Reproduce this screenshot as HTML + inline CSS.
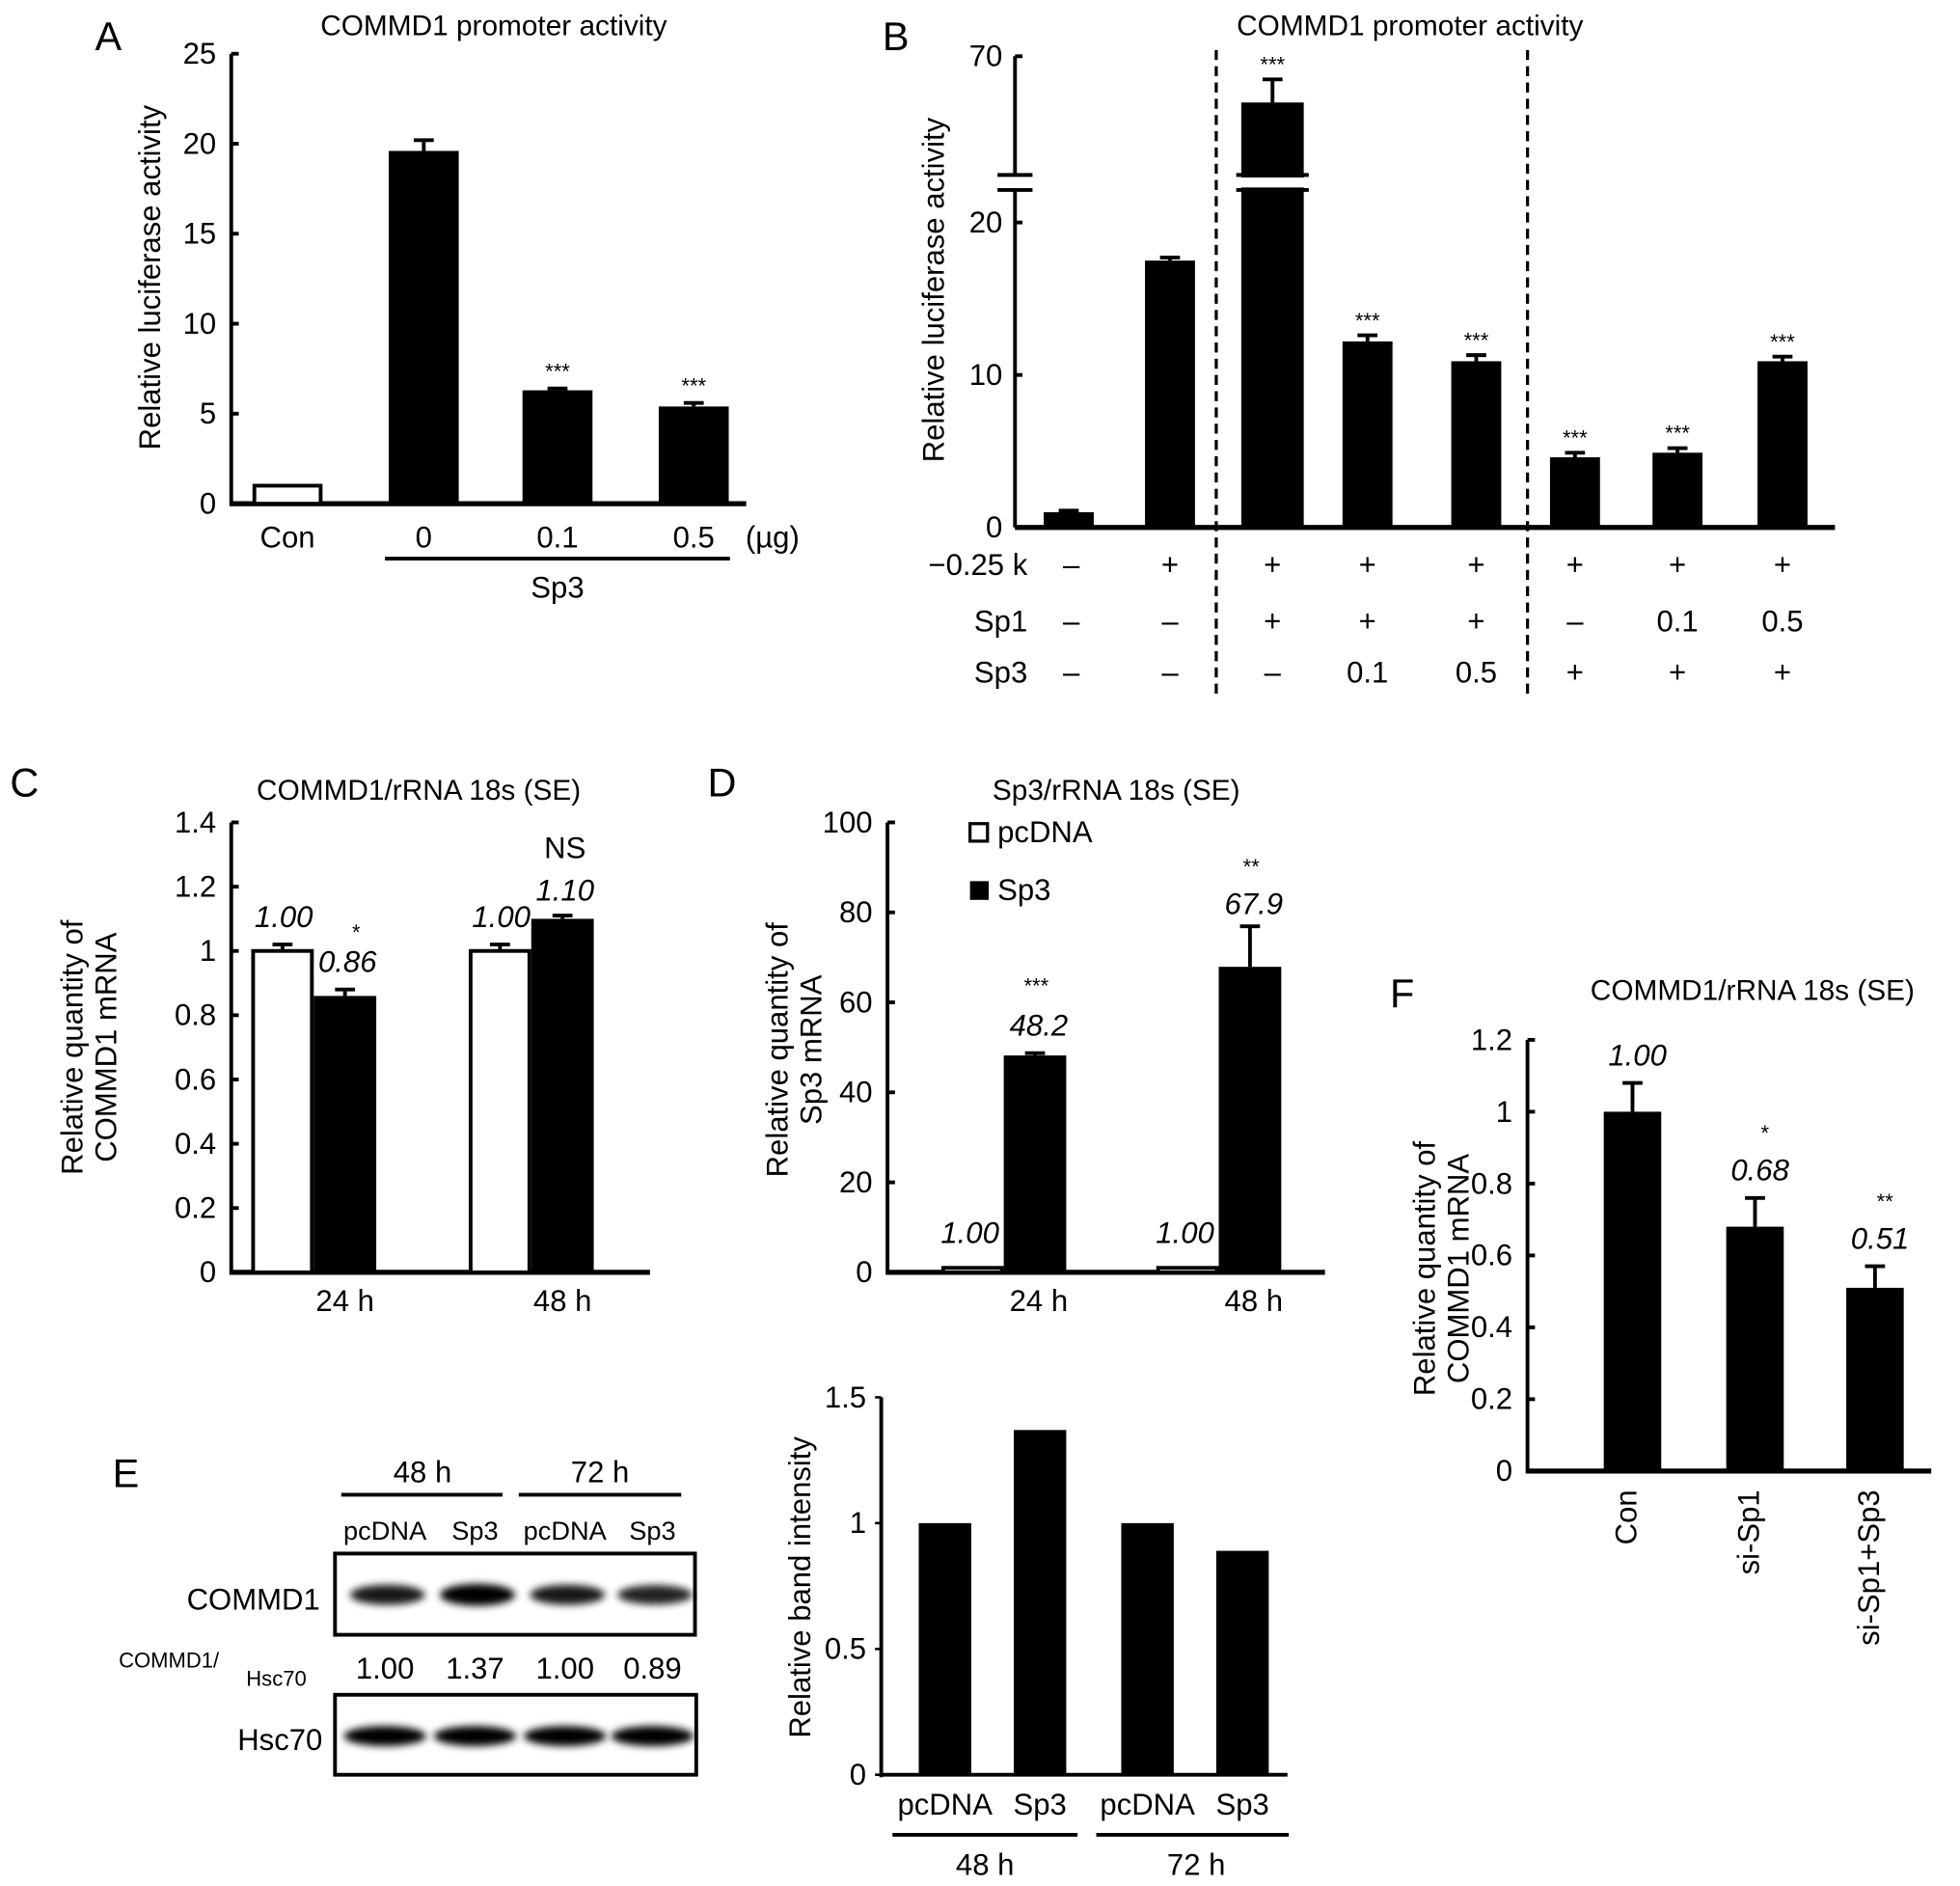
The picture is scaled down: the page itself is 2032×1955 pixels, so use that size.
<!DOCTYPE html>
<html><head><meta charset="utf-8"><style>
html,body{margin:0;padding:0;background:#fff}
svg{display:block}
text{font-family:"Liberation Sans",sans-serif;fill:#000}
</style></head><body>
<svg id="fig" xmlns="http://www.w3.org/2000/svg" width="2032" height="1955" viewBox="0 0 1568 1509" preserveAspectRatio="none">
<defs><filter id="blur" x="-20%" y="-50%" width="140%" height="200%"><feGaussianBlur stdDeviation="3"/></filter></defs>
<text x="76" y="40" font-size="32">A</text>
<text x="395" y="28" font-size="23" text-anchor="middle">COMMD1 promoter activity</text>
<text x="706" y="40" font-size="32">B</text>
<text x="1128" y="28" font-size="23" text-anchor="middle">COMMD1 promoter activity</text>
<text x="8" y="637" font-size="32">C</text>
<text x="335" y="640" font-size="23" text-anchor="middle">COMMD1/rRNA 18s (SE)</text>
<text x="566" y="637" font-size="32">D</text>
<text x="893" y="640" font-size="23" text-anchor="middle">Sp3/rRNA 18s (SE)</text>
<text x="1112" y="806" font-size="32">F</text>
<text x="1402" y="800" font-size="23" text-anchor="middle">COMMD1/rRNA 18s (SE)</text>
<text x="90" y="1190" font-size="32">E</text>
<g id="g"></g>
</svg>
<script>
// ---- data ----
const aCats = ["Con","0","0.1","0.5"];
const aVals = [1.0,19.6,6.3,5.4];
const aErr = [0.05,0.6,0.1,0.2];
const aStars = ["","","***","***"];
const aTicks = [0,5,10,15,20,25];

const bVals = [1.0,17.5,60,12.2,10.9,4.6,4.9,10.9];
const bErr = [0.1,0.2,5,0.4,0.4,0.3,0.3,0.3];
const bStars = ["","","***","***","***","***","***","***"];
const bRow1 = ["–","+","+","+","+","+","+","+"];
const bRow2 = ["–","–","+","+","+","–","0.1","0.5"];
const bRow3 = ["–","–","–","0.1","0.5","+","+","+"];
const bTicks = [0,10,20];

const cGroups = ["24 h","48 h"];
const cCtrl = [1.00,1.00];
const cTreat = [0.86,1.10];
const cCtrlErr = [0.02,0.02];
const cTreatErr = [0.02,0.01];
const cStars = ["*","NS"];
const cTicks = [0,0.2,0.4,0.6,0.8,1,1.2,1.4];

const dGroups = ["24 h","48 h"];
const dCtrl = [1.00,1.00];
const dTreat = [48.2,67.9];
const dTreatErr = [0.5,9];
const dStars = ["***","**"];
const dTicks = [0,20,40,60,80,100];

const eCats = ["pcDNA","Sp3","pcDNA","Sp3"];
const eVals = [1.00,1.37,1.00,0.89];
const eTicks = [0,0.5,1,1.5];

const fCats = ["Con","si-Sp1","si-Sp1+Sp3"];
const fVals = [1.00,0.68,0.51];
const fErr = [0.08,0.08,0.06];
const fStars = ["","*","**"];
const fTicks = [0,0.2,0.4,0.6,0.8,1,1.2];

const FS=24;
// ---- helpers ----
const NS="http://www.w3.org/2000/svg";
const G=document.getElementById('g');
function mk(tag,attrs,txt){const e=document.createElementNS(NS,tag);for(const k in attrs)e.setAttribute(k,attrs[k]);if(txt!==undefined)e.textContent=txt;G.appendChild(e);return e;}
function line(x1,y1,x2,y2,w,extra){return mk('line',Object.assign({x1,y1,x2,y2,stroke:'#000','stroke-width':w||3},extra||{}));}
function txt(x,y,s,size,anchor,extra){return mk('text',Object.assign({x,y,'font-size':size||FS,'text-anchor':anchor||'middle'},extra||{}),s);}
function fmt(v){return (Math.round(v*10)/10).toString();}

// ---- Panel A ----
(function(){
  const x0=185,y0=403,yTop=43,max=25;
  const ys=v=>y0-(v/max)*(y0-yTop);
  const xs=[230,339,446,555], bw=56;
  let e;
  e=line(x0,yTop,x0,y0+2,3);
  
  
  e=line(x0,y0,597,y0,4);
  
  
  aTicks.forEach(t=>{line(x0,ys(t),x0+6,ys(t),3);
    e=txt(x0-12,ys(t)+8,String(t),FS,'end');
    
    });
  e=txt(0,0,'Relative luciferase activity',FS,'middle',{transform:'translate(128,222) rotate(-90)'});
  
  
  aVals.forEach((v,i)=>{
    const white=i===0;
    e=mk('rect',{x:xs[i]-bw/2+(white?1.5:0),y:ys(v),width:bw-(white?3:0),height:y0-ys(v),fill:white?'#fff':'#000',stroke:'#000','stroke-width':white?3:0});
    
    
    if(!white){line(xs[i],ys(v),xs[i],ys(v+aErr[i]),3);line(xs[i]-8,ys(v+aErr[i]),xs[i]+8,ys(v+aErr[i]),3);}
    if(aStars[i]){e=txt(xs[i],ys(v+aErr[i])-8,aStars[i],17);
      
      }
    e=txt(xs[i],438,aCats[i],FS);
    
    
  });
  e=txt(618,438,'(µg)',FS);
  
  
  line(308,447,584,447,3);
  e=txt(446,478,'Sp3',FS);
  
  
})();

// ---- Panel B ----
(function(){
  const x0=812,y0=422,k=12.2;
  const breakV=22.5;
  const ys=v=>v<=breakV? y0-v*k : 82+(60-v)*3.7;
  const xs=[855,936,1018,1094,1181,1260,1342,1426], bw=40;
  let e;
  e=line(x0,45,x0,140,3);
  
  
  e=line(x0,152,x0,y0,3);
  
  
  line(x0-14,140,x0+14,140,3);line(x0-14,152,x0+14,152,3);
  line(x0,45,x0+6,45,3);
  e=txt(x0-10,53,'70',FS,'end');
  
  
  bTicks.forEach(t=>{line(x0,ys(t),x0+6,ys(t),3);
    e=txt(x0-10,ys(t)+8,String(t),FS,'end');
    
    });
  e=line(x0,y0,1468,y0,4);
  
  
  e=txt(0,0,'Relative luciferase activity',FS,'middle',{transform:'translate(755,232) rotate(-90)'});
  
  
  bVals.forEach((v,i)=>{
    const w=i===2?50:bw;
    e=mk('rect',{x:xs[i]-w/2,y:ys(v),width:w,height:y0-ys(v),fill:'#000'});
    
    
    const te=ys(v+bErr[i]);
    line(xs[i],ys(v),xs[i],te,3);line(xs[i]-8,te,xs[i]+8,te,3);
    if(v>breakV){mk('rect',{x:xs[i]-w/2-4,y:142,width:w+8,height:8,fill:'#fff'});
      line(xs[i]-w/2-4,140,xs[i]+w/2+4,140,3);line(xs[i]-w/2-4,152,xs[i]+w/2+4,152,3);}
    if(bStars[i]){e=txt(xs[i],te-6,bStars[i],17);
      
      }
    [[bRow1,460],[bRow2,505],[bRow3,546]].forEach(([row,y])=>{
      e=txt(xs[i]+(i===0?2:0),y,row[i],FS);
      
      });
  });
  [['−0.25 k',460],['Sp1',505],['Sp3',546]].forEach(([s,y])=>{
    e=txt(822,y,s,FS,'end');
    
    });
  [973,1222].forEach(x=>{e=line(x,40,x,556,2.5,{'stroke-dasharray':'8,5'});
    
    });
})();

// ---- grouped chart helper (C, D) ----
function grouped(p,cfg){
  const {x0,y0,yTop,max,xEnd,ticks,groups,ctrl,treat,ctrlErr,treatErr,stars,centers,bw,tickFmt}=cfg;
  const ys=v=>y0-(v/max)*(y0-yTop);
  let e;
  e=line(x0,yTop,x0,y0+2,3);
  
  
  e=line(x0,y0,xEnd,y0,4);
  
  
  ticks.forEach(t=>{line(x0,ys(t),x0+6,ys(t),3);
    e=txt(x0-12,ys(t)+8,tickFmt(t),FS,'end');
    
    });
  groups.forEach((gname,i)=>{
    const cx=centers[i];
    e=mk('rect',{x:cx-bw+1.5,y:ys(ctrl[i]),width:bw-3,height:y0-ys(ctrl[i]),fill:'#fff',stroke:'#000','stroke-width':3});
    
    
    if(ctrlErr){const t=ys(ctrl[i]+ctrlErr[i]);line(cx-bw/2,ys(ctrl[i]),cx-bw/2,t,3);line(cx-bw/2-8,t,cx-bw/2+8,t,3);}
    e=mk('rect',{x:cx,y:ys(treat[i]),width:bw,height:y0-ys(treat[i]),fill:'#000'});
    
    
    const t2=ys(treat[i]+treatErr[i]);
    line(cx+bw/2,ys(treat[i]),cx+bw/2,t2,3);line(cx+bw/2-8,t2,cx+bw/2+8,t2,3);
    e=txt(cx+(p==='c'?25:28),y0+31,gname,FS);
    
    
    cfg.labels(i,ys,cx,e);
  });
}
grouped('c',{x0:185,y0:1018,yTop:658,max:1.4,xEnd:520,ticks:cTicks,groups:cGroups,ctrl:cCtrl,treat:cTreat,ctrlErr:cCtrlErr,treatErr:cTreatErr,stars:cStars,centers:[251,425],bw:50,tickFmt:t=>String(Math.round(t*10)/10),
  labels:(i,ys,cx)=>{let e;
    e=txt(cx-24,ys(cCtrl[i]+cCtrlErr[i])-14,cCtrl[i].toFixed(2),FS,'middle',{'font-style':'italic'});
    
    
    e=txt(cx+27,ys(cTreat[i]+cTreatErr[i])-(i===0?14:12),cTreat[i].toFixed(2),FS,'middle',{'font-style':'italic'});
    
    
    e=txt(cx+(i===0?34:27),ys(cTreat[i]+cTreatErr[i])-(i===0?40:46),cStars[i],i===0?17:FS);
    
    }});
e0=txt(0,0,'Relative quantity of',FS,'middle',{transform:'translate(66,838) rotate(-90)'});


e0=txt(0,0,'COMMD1 mRNA',FS,'middle',{transform:'translate(93,838) rotate(-90)'});



grouped('d',{x0:710,y0:1018,yTop:658,max:100,xEnd:1060,ticks:dTicks,groups:dGroups,ctrl:dCtrl,treat:dTreat,ctrlErr:null,treatErr:dTreatErr,stars:dStars,centers:[803,975],bw:50,tickFmt:t=>String(t),
  labels:(i,ys,cx)=>{let e;
    e=txt(cx-27,ys(dCtrl[i])-20,dCtrl[i].toFixed(2),FS,'middle',{'font-style':'italic'});
    
    
    const top=ys(dTreat[i]+dTreatErr[i]);
    e=txt(cx+28,top-(i===0?14:10),fmt(dTreat[i]),FS,'middle',{'font-style':'italic'});
    
    
    e=txt(cx+26,top-(i===0?48:42),dStars[i],17);
    
    }});
e0=txt(0,0,'Relative quantity of',FS,'middle',{transform:'translate(630,840) rotate(-90)'});


e0=txt(0,0,'Sp3 mRNA',FS,'middle',{transform:'translate(657,840) rotate(-90)'});


e0=mk('rect',{x:776,y:659,width:14,height:14,fill:'#fff',stroke:'#000','stroke-width':2.5});


e0=txt(798,674,'pcDNA',FS,'start');


e0=mk('rect',{x:776,y:705,width:15,height:15,fill:'#000'});


e0=txt(798,720,'Sp3',FS,'start');



// ---- Panel F ----
(function(){
  const x0=1222,y0=1177,yTop=832,max=1.2;
  const ys=v=>y0-(v/max)*(y0-yTop);
  const xs=[1306,1404,1500],bw=46;
  let e;
  e=line(x0,yTop,x0,y0+2,3);
  
  
  e=line(x0,y0,1545,y0,4);
  
  
  fTicks.forEach(t=>{line(x0,ys(t),x0+6,ys(t),3);
    e=txt(x0-12,ys(t)+8,String(Math.round(t*10)/10),FS,'end');
    
    });
  fVals.forEach((v,i)=>{
    e=mk('rect',{x:xs[i]-bw/2,y:ys(v),width:bw,height:y0-ys(v),fill:'#000'});
    
    
    const t=ys(v+fErr[i]);line(xs[i],ys(v),xs[i],t,3);line(xs[i]-8,t,xs[i]+8,t,3);
    e=txt(xs[i]+4,t-14,v.toFixed(2),FS,'middle',{'font-style':'italic'});
    
    
    if(fStars[i]){e=txt(xs[i]+8,t-46,fStars[i],17);
      
      }
    e=txt(0,0,fCats[i],FS,'end',{transform:'translate('+(xs[i]+3)+',1192) rotate(-90)'});
    
    
  });
  e=txt(0,0,'Relative quantity of',FS,'middle',{transform:'translate(1148,1015) rotate(-90)'});
  
  
  e=txt(0,0,'COMMD1 mRNA',FS,'middle',{transform:'translate(1175,1015) rotate(-90)'});
  
  
})();

// ---- Panel E western blot ----
(function(){
  let e;
  const lanes=[308,380,452,522];
  e=txt(338,1186,'48 h',FS);
  
  
  e=txt(480,1186,'72 h',FS);
  
  
  line(273,1196,402,1196,3);line(415,1196,545,1196,3);
  eCats.forEach((c,i)=>{e=txt(lanes[i],1232,c,21);
    
    
    e=txt(lanes[i],1343,eVals[i].toFixed(2),FS);
    
    });
  e=mk('rect',{x:268,y:1243,width:288,height:65,fill:'#fff',stroke:'#000','stroke-width':3});
  
  
  eVals.forEach((v,i)=>{e=mk('ellipse',{cx:lanes[i]+2,cy:1276,rx:30,ry:6+2*v,fill:'#000',opacity:Math.min(1,0.55+0.35*v),filter:'url(#blur)'});
    
    });
  e=mk('rect',{x:268,y:1356,width:289,height:64,fill:'#fff',stroke:'#000','stroke-width':3});
  
  
  lanes.forEach(x=>{e=mk('ellipse',{cx:x,cy:1389,rx:33,ry:8,fill:'#000',filter:'url(#blur)'});
    
    });
  e=txt(256,1288,'COMMD1',FS,'end');
  
  
  e=txt(258,1400,'Hsc70',FS,'end');
  
  
  e=txt(95,1334,'COMMD1/',17,'start');
  
  
  e=txt(197,1349,'Hsc70',17,'start');
  
  
})();

// ---- Panel E quantification ----
(function(){
  const x0=705,y0=1420,yTop=1118,max=1.5;
  const ys=v=>y0-(v/max)*(y0-yTop);
  const xs=[756,832,918,994],bw=42;
  let e;
  e=line(x0,yTop,x0,y0+2,3);
  
  
  e=line(x0,y0,1030,y0,3);
  
  
  eTicks.forEach(t=>{line(x0-5,ys(t),x0,ys(t),2);
    e=txt(x0-12,ys(t)+8,String(t),FS,'end');
    
    });
  eVals.forEach((v,i)=>{
    e=mk('rect',{x:xs[i]-bw/2,y:ys(v),width:bw,height:y0-ys(v),fill:'#000'});
    
    
    e=txt(xs[i],1452,eCats[i],FS);
    
    
  });
  line(714,1468,862,1468,3);line(877,1468,1031,1468,3);
  e=txt(788,1500,'48 h',FS);
  
  
  e=txt(957,1500,'72 h',FS);
  
  
  e=txt(0,0,'Relative band intensity',FS,'middle',{transform:'translate(648,1270) rotate(-90)'});
  
  
})();
</script>
</body></html>
